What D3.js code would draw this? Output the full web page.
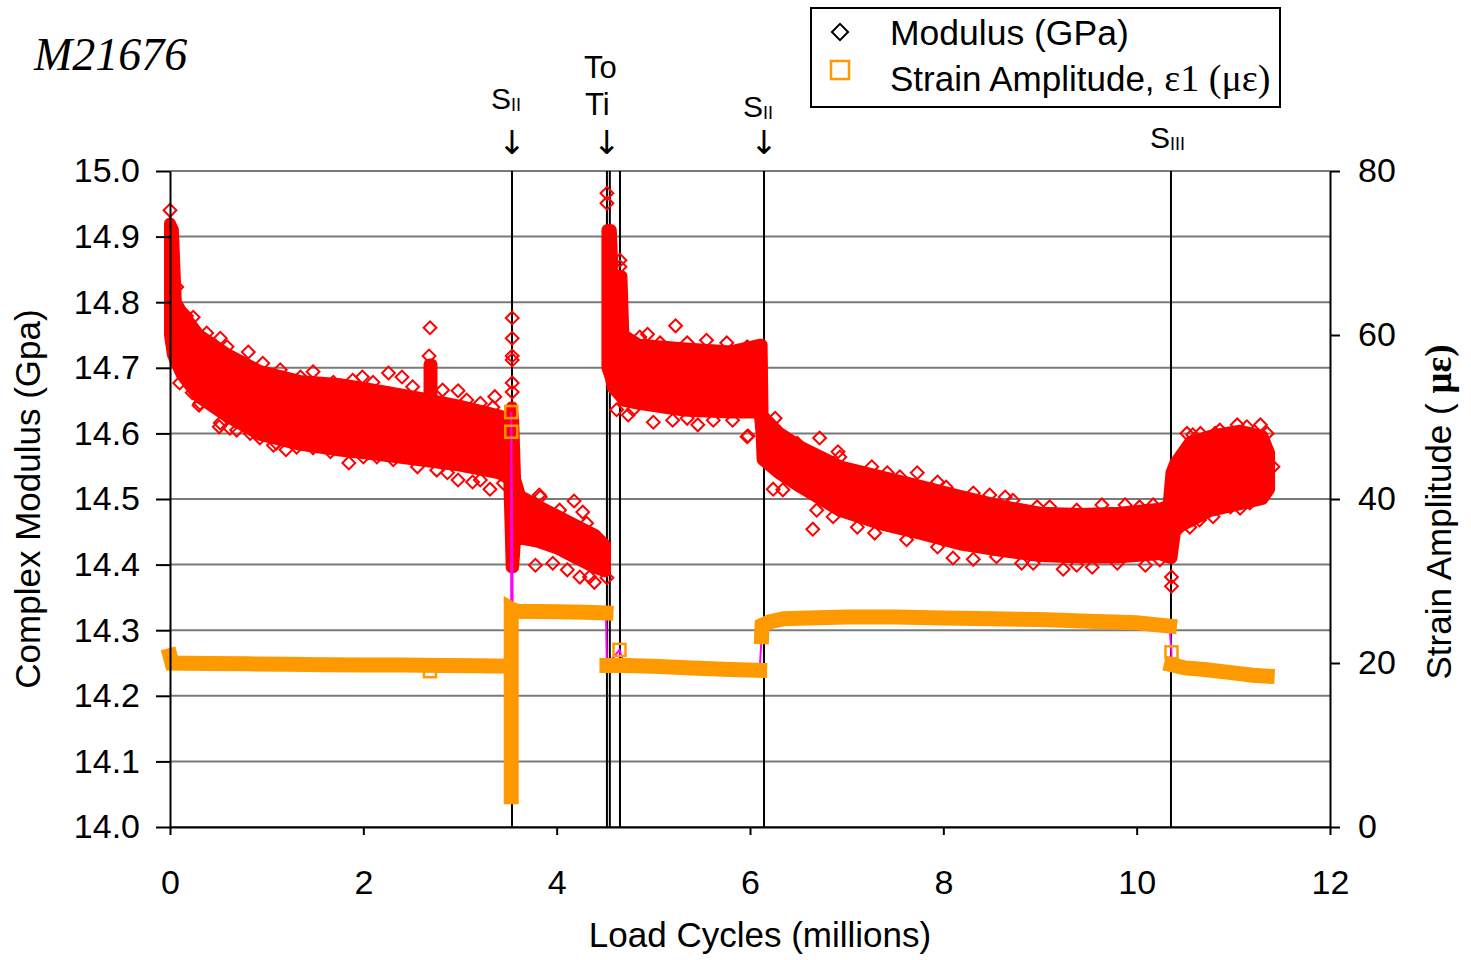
<!DOCTYPE html>
<html>
<head>
<meta charset="utf-8">
<script src="https://cdn.jsdelivr.net/npm/d3@7"></script>
<style>
  html, body { margin: 0; padding: 0; background: #fff; }
  svg { display: block; }
  text { font-family: "Liberation Sans", Arial, sans-serif; fill: #000; }
</style>
</head>
<body>
<svg id="chart" width="1471" height="960"></svg>
<script>
// ---------------- DATA ----------------
const xTicks = [0, 2, 4, 6, 8, 10, 12];
const leftTicks = [14.0, 14.1, 14.2, 14.3, 14.4, 14.5, 14.6, 14.7, 14.8, 14.9, 15.0];
const rightTicks = [0, 20, 40, 60, 80];

// vertical event lines (millions of cycles)
const eventLines = [3.538, 4.52, 4.55, 4.655, 6.145, 10.355];

// annotation labels above the plot
const annotations = [
  { x: 3.538, main: "S", sub: "II", arrow: true },
  { x: 4.52, main: "To", sub: "", arrow: true, second: "Ti" },
  { x: 6.145, main: "S", sub: "II", arrow: true },
  { x: 10.355, main: "S", sub: "III", arrow: false }
];

// Modulus scatter band: [cycles, lower envelope, upper envelope] (GPa)
const modBandA = [
  [0.00, 14.75, 14.92], [0.03, 14.72, 14.91], [0.06, 14.71, 14.80],
  [0.12, 14.69, 14.785], [0.30, 14.655, 14.75], [0.60, 14.625, 14.72],
  [0.93, 14.598, 14.695], [1.34, 14.583, 14.68], [1.76, 14.574, 14.675],
  [2.17, 14.567, 14.665], [2.59, 14.559, 14.654], [3.00, 14.551, 14.642],
  [3.41, 14.539, 14.627], [3.51, 14.53, 14.622], [3.535, 14.396, 14.64],
  [3.55, 14.396, 14.62], [3.57, 14.44, 14.53], [3.62, 14.44, 14.505],
  [3.80, 14.435, 14.49], [4.00, 14.425, 14.475], [4.20, 14.41, 14.46],
  [4.40, 14.395, 14.445], [4.50, 14.39, 14.43]
];
const modBandB = [
  [4.525, 14.70, 14.91], [4.56, 14.685, 14.91], [4.58, 14.67, 14.84],
  [4.67, 14.655, 14.84], [4.69, 14.65, 14.75], [4.85, 14.645, 14.735],
  [5.30, 14.635, 14.73], [5.80, 14.632, 14.725], [6.10, 14.632, 14.735],
  [6.12, 14.60, 14.735], [6.13, 14.56, 14.627], [6.31, 14.538, 14.60],
  [6.52, 14.518, 14.58], [6.93, 14.482, 14.55], [7.34, 14.462, 14.535],
  [7.76, 14.447, 14.52], [8.17, 14.431, 14.505], [8.59, 14.421, 14.49],
  [9.00, 14.413, 14.479], [9.41, 14.411, 14.477], [9.83, 14.411, 14.479],
  [10.24, 14.416, 14.485], [10.33, 14.411, 14.49], [10.36, 14.41, 14.54],
  [10.40, 14.455, 14.555], [10.55, 14.466, 14.586], [10.76, 14.482, 14.596],
  [11.07, 14.492, 14.604], [11.30, 14.50, 14.596], [11.37, 14.515, 14.57]
];
const modSpike = [[2.685, 14.645, 14.705], [2.705, 14.645, 14.705]];

// Individual modulus points standing out from the band [cycles, GPa]
const modOutliers = [
  [0.00, 14.94], [2.69, 14.761], [2.68, 14.718], [3.54, 14.776], [3.54, 14.745],
  [3.54, 14.718], [3.54, 14.712], [3.54, 14.677], [3.54, 14.663], [0.81, 14.724],
  [1.48, 14.694], [2.26, 14.692], [2.40, 14.686], [1.99, 14.686], [2.98, 14.665],
  [3.36, 14.656], [0.17, 14.779], [0.52, 14.745], [0.30, 14.643], [0.51, 14.61],
  [0.69, 14.605], [1.07, 14.582], [1.20, 14.575], [1.85, 14.555], [2.00, 14.564],
  [2.56, 14.549], [2.98, 14.529], [3.13, 14.526], [3.31, 14.515], [3.45, 14.524],
  [4.52, 14.966], [4.52, 14.951], [4.655, 14.864], [4.655, 14.854], [5.23, 14.764],
  [4.94, 14.751], [5.97, 14.595], [6.26, 14.623], [4.62, 14.636], [4.74, 14.628],
  [5.00, 14.617], [5.46, 14.613], [4.18, 14.497], [4.27, 14.48], [3.82, 14.506],
  [3.78, 14.399], [4.24, 14.381], [4.39, 14.373], [4.52, 14.38], [5.98, 14.73],
  [5.98, 14.596], [6.72, 14.593], [6.91, 14.572], [7.26, 14.549], [7.73, 14.54],
  [7.94, 14.526], [8.48, 14.506], [8.64, 14.503], [8.97, 14.488], [9.64, 14.491],
  [9.88, 14.491], [6.65, 14.454], [6.24, 14.515], [6.69, 14.483], [7.29, 14.448],
  [8.10, 14.41], [8.31, 14.408], [8.81, 14.402], [9.24, 14.393], [9.54, 14.396],
  [10.09, 14.399], [10.36, 14.381], [10.36, 14.367], [11.04, 14.613], [11.28, 14.613],
  [10.58, 14.598], [10.81, 14.60], [11.07, 14.486], [10.79, 14.473], [10.55, 14.457]
];
// Markers sitting on the ragged edges of the band [cycles, GPa]
const modEdge = [
  [0.10, 14.677], [0.23, 14.662], [0.31, 14.646], [0.52, 14.616], [0.62, 14.608],
  [0.83, 14.600], [0.93, 14.593], [1.10, 14.585], [1.31, 14.579], [1.48, 14.578],
  [1.66, 14.572], [2.14, 14.564], [2.31, 14.560], [2.76, 14.544], [2.87, 14.540],
  [3.21, 14.529], [0.07, 14.823], [0.24, 14.777], [0.38, 14.753], [0.59, 14.732],
  [0.96, 14.707], [1.14, 14.697], [1.35, 14.686], [1.69, 14.678], [1.89, 14.681],
  [2.10, 14.678], [2.51, 14.671], [2.82, 14.666], [3.07, 14.651], [3.21, 14.646],
  [3.34, 14.640], [4.86, 14.747], [5.07, 14.738], [5.35, 14.738], [5.55, 14.742],
  [5.76, 14.738], [5.97, 14.732], [4.79, 14.636], [5.20, 14.620], [5.35, 14.623],
  [5.62, 14.620], [5.82, 14.620], [3.83, 14.503], [4.03, 14.483], [4.31, 14.463],
  [3.96, 14.402], [4.11, 14.392], [4.34, 14.381], [6.49, 14.585], [6.93, 14.564],
  [7.42, 14.540], [7.55, 14.534], [8.03, 14.518], [8.31, 14.509], [8.72, 14.498],
  [9.10, 14.488], [9.38, 14.483], [10.03, 14.488], [10.17, 14.491], [6.34, 14.514],
  [6.86, 14.473], [7.11, 14.457], [7.62, 14.438], [7.94, 14.427], [8.55, 14.412],
  [8.93, 14.402], [9.38, 14.399], [9.80, 14.402], [10.24, 14.407], [10.52, 14.600],
  [10.66, 14.600], [10.86, 14.605], [11.14, 14.610], [11.35, 14.600], [11.41, 14.549],
  [10.65, 14.468], [10.97, 14.488], [11.17, 14.494], [10.45, 14.457]
];

// Strain amplitude (microstrain): dense runs of markers [cycles, value]
const strainA = [
  [0.00, 20.9], [0.02, 20.0], [0.40, 19.95], [0.80, 19.9], [1.20, 19.85],
  [1.60, 19.8], [2.00, 19.75], [2.40, 19.75], [2.80, 19.7], [3.20, 19.65], [3.52, 19.6]
];
const strainCol = [[3.53, 3.7], [3.53, 26.6]];
const strainB = [[3.545, 26.5], [3.60, 26.3], [4.00, 26.25], [4.30, 26.2], [4.51, 26.1]];
const strainC = [[4.52, 19.7], [4.70, 19.7], [5.00, 19.6], [5.40, 19.4], [5.80, 19.2], [6.10, 19.1]];
const strainD = [
  [6.12, 23.2], [6.125, 24.6], [6.20, 25.0], [6.35, 25.4], [6.60, 25.5], [7.00, 25.6],
  [7.50, 25.6], [8.00, 25.5], [8.50, 25.4], [9.00, 25.3], [9.50, 25.1], [10.00, 24.9], [10.34, 24.5]
];
const strainE = [[10.36, 19.8], [10.50, 19.4], [10.70, 19.2], [11.00, 18.8], [11.20, 18.5], [11.35, 18.4]];
// isolated strain markers
const strainSparse = [[2.69, 19.0], [3.53, 48.2], [3.53, 50.6], [4.65, 21.6], [10.36, 21.3]];

// ---------------- CHART ----------------
const svg = d3.select("#chart");
const x = d3.scaleLinear().domain([0, 12]).range([170, 1330]);
const yL = d3.scaleLinear().domain([14, 15]).range([827, 171]);
const yR = d3.scaleLinear().domain([0, 80]).range([827, 171]);

const RED = "#ff0000", ORANGE = "#ff9900", MAGENTA = "#ff00ff";

// gridlines
svg.append("g").selectAll("line").data(leftTicks).join("line")
  .attr("x1", x(0)).attr("x2", x(12))
  .attr("y1", d => yL(d)).attr("y2", d => yL(d))
  .attr("stroke", "#7a7a7a").attr("stroke-width", 2);

// event lines
svg.append("g").selectAll("line").data(eventLines).join("line")
  .attr("x1", d => x(d)).attr("x2", d => x(d))
  .attr("y1", yL(15)).attr("y2", yL(14))
  .attr("stroke", "#000").attr("stroke-width", 2);

// modulus band (scatter cloud envelope)
const area = d3.area().x(d => x(d[0])).y0(d => yL(d[1])).y1(d => yL(d[2]));
svg.append("g").selectAll("path").data([modBandA, modBandB, modSpike]).join("path")
  .attr("d", area)
  .attr("fill", RED).attr("stroke", RED).attr("stroke-width", 12)
  .attr("stroke-linejoin", "round");

// diamonds (outliers and band-edge markers)
const diamondPath = d3.symbol().type(d3.symbolSquare).size(82);
svg.append("g").selectAll("path").data(modOutliers.concat(modEdge)).join("path")
  .attr("d", diamondPath)
  .attr("transform", d => `translate(${x(d[0])},${yL(d[1])}) rotate(45)`)
  .attr("fill", "none").attr("stroke", RED).attr("stroke-width", 2);

// strain connecting line (magenta)
const seq = [...strainA, ...strainCol, strainSparse[1], strainSparse[2], ...strainB,
  strainC[0], strainSparse[3], ...strainC.slice(1), ...strainD, strainSparse[4], ...strainE];
const line = d3.line().x(d => x(d[0])).y(d => yR(d[1]));
svg.append("path").datum(seq).attr("d", line)
  .attr("fill", "none").attr("stroke", MAGENTA).attr("stroke-width", 2);

// dense strain marker runs
svg.append("g").selectAll("path").data([strainA, strainCol.concat(strainB), strainC, strainD, strainE]).join("path")
  .attr("d", line).attr("fill", "none").attr("stroke", ORANGE)
  .attr("stroke-width", 15).attr("stroke-linecap", "square").attr("stroke-linejoin", "miter");

// sparse strain squares
svg.append("g").selectAll("rect").data(strainSparse).join("rect")
  .attr("x", d => x(d[0]) - 6).attr("y", d => yR(d[1]) - 6)
  .attr("width", 12).attr("height", 12)
  .attr("fill", "none").attr("stroke", ORANGE).attr("stroke-width", 2.5);

// axes
const axL = svg.append("g").attr("transform", `translate(${x(0)},0)`)
  .call(d3.axisLeft(yL).tickValues(leftTicks).tickFormat(d3.format(".1f")).tickSize(14).tickPadding(16).tickSizeOuter(0));
const axB = svg.append("g").attr("transform", `translate(0,${yL(14)})`)
  .call(d3.axisBottom(x).tickValues(xTicks).tickFormat(d3.format("d")).tickSize(8).tickPadding(35).tickSizeOuter(0));
const axR = svg.append("g").attr("transform", `translate(${x(12)},0)`)
  .call(d3.axisRight(yR).tickValues(rightTicks).tickSize(10).tickPadding(18).tickSizeOuter(0));
[axL, axB, axR].forEach(g => {
  g.selectAll("path.domain").attr("stroke", "#000").attr("stroke-width", 2);
  g.selectAll(".tick line").attr("stroke", "#000").attr("stroke-width", 2);
  g.selectAll(".tick text").style("font-family", '"Liberation Sans", Arial, sans-serif')
    .style("font-size", "34px").attr("fill", "#000");
});

// axis titles
svg.append("text").attr("transform", `translate(40,${(yL(14) + yL(15)) / 2}) rotate(-90)`)
  .attr("text-anchor", "middle").style("font-size", "35px").text("Complex Modulus (Gpa)");
svg.append("text").attr("x", (x(0) + x(12)) / 2 + 10).attr("y", 947)
  .attr("text-anchor", "middle").style("font-size", "35px").text("Load Cycles (millions)");
const rt = svg.append("text").attr("transform", `translate(1451,512) rotate(-90)`)
  .attr("text-anchor", "middle").style("font-size", "35px");
rt.append("tspan").text("Strain Amplitude (  ");
rt.append("tspan").style("font-family", '"Liberation Serif", "Times New Roman", serif')
  .style("font-weight", "bold").style("font-size", "37px").text("με)");

// title
svg.append("text").attr("x", 34).attr("y", 70)
  .style("font-family", '"Liberation Serif", "Times New Roman", serif')
  .style("font-style", "italic").style("font-size", "46px").text("M21676");

// annotations
annotations.forEach(a => {
  const cx = x(a.x);
  if (a.second) {
    svg.append("text").attr("x", cx - 23).attr("y", 78).style("font-size", "31px").text(a.main);
    svg.append("text").attr("x", cx - 22).attr("y", 115).style("font-size", "31px").text(a.second);
  } else {
    const baseY = a.arrow ? (a.x < 5 ? 109 : 117) : 148;
    const t = svg.append("text").attr("x", cx - (a.sub === "III" ? 21 : 21)).attr("y", baseY).style("font-size", "30px");
    t.append("tspan").text(a.main);
    t.append("tspan").style("font-size", "18px").attr("dy", 2).text(a.sub);
  }
  if (a.arrow) {
    svg.append("text").attr("x", cx).attr("y", 154).attr("text-anchor", "middle")
      .style("font-family", '"DejaVu Sans", sans-serif').style("font-size", "33px").text("↓");
  }
});

// legend
const lg = svg.append("g");
lg.append("rect").attr("x", 811).attr("y", 8).attr("width", 469).attr("height", 99)
  .attr("fill", "#fff").attr("stroke", "#000").attr("stroke-width", 2);
lg.append("path").attr("d", d3.symbol().type(d3.symbolSquare).size(130))
  .attr("transform", "translate(840,32) rotate(45)")
  .attr("fill", "none").attr("stroke", "#000").attr("stroke-width", 2);
lg.append("rect").attr("x", 831).attr("y", 61).attr("width", 18).attr("height", 18)
  .attr("fill", "none").attr("stroke", ORANGE).attr("stroke-width", 2.5);
lg.append("text").attr("x", 890).attr("y", 45).style("font-size", "35.5px").text("Modulus (GPa)");
const lt = lg.append("text").attr("x", 890).attr("y", 91).style("font-size", "35px");
lt.append("tspan").text("Strain Amplitude, ");
lt.append("tspan").style("font-family", '"Liberation Serif", "Times New Roman", serif')
  .style("font-size", "38px").text("ε1 (με)");
</script>
</body>
</html>
